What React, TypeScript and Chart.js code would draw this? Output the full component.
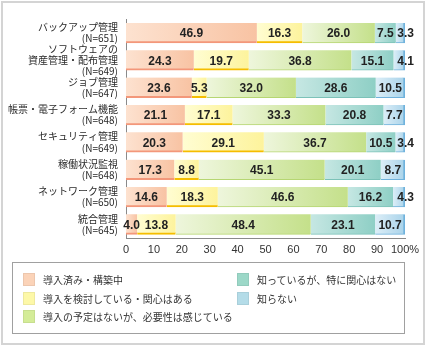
import React, { useEffect, useRef } from "react";
import { Chart, registerables } from "chart.js";

Chart.register(...registerables);

const categories: string[][] = [
  ["バックアップ管理", "(N=651)"],
  ["ソフトウェアの", "資産管理・配布管理", "(N=649)"],
  ["ジョブ管理", "(N=647)"],
  ["帳票・電子フォーム機能", "(N=648)"],
  ["セキュリティ管理", "(N=649)"],
  ["稼働状況監視", "(N=648)"],
  ["ネットワーク管理", "(N=650)"],
  ["統合管理", "(N=645)"],
];

const seriesNames = [
  "導入済み・構築中",
  "導入を検討している・関心はある",
  "導入の予定はないが、必要性は感じている",
  "知っているが、特に関心はない",
  "知らない",
];

const introduced = [46.9, 24.3, 23.6, 21.1, 20.3, 17.3, 14.6, 4.0];
const considering = [16.3, 19.7, 5.3, 17.1, 29.1, 8.8, 18.3, 13.8];
const needed = [26.0, 36.8, 32.0, 33.3, 36.7, 45.1, 46.6, 48.4];
const noInterest = [7.5, 15.1, 28.6, 20.8, 10.5, 20.1, 16.2, 23.1];
const unknown = [3.3, 4.1, 10.5, 7.7, 3.4, 8.7, 4.3, 10.7];

const xTicks = [0, 10, 20, 30, 40, 50, 60, 70, 80, 90, 100];

const seriesValues = [introduced, considering, needed, noInterest, unknown];

const styles = [
  { from: "#fde2d0", to: "#f8c3a3", border: "#f3977a", swatch: "#fbd3b8", bw: { top: 0, left: 0, right: 0, bottom: 2 } },
  { from: "#fffdd2", to: "#fdf39c", border: "#f5bd00", swatch: "#fdf8a8", bw: { top: 0, left: 0, right: 0, bottom: 2 } },
  { from: "#eef6dc", to: "#c4e08a", border: "#b6d672", swatch: "#d4ec98", bw: { top: 0, left: 0, right: 0, bottom: 1 } },
  { from: "#c6e7e3", to: "#8ecfc5", border: "#7cc2b8", swatch: "#9cd8c8", bw: { top: 0, left: 0, right: 0, bottom: 1 } },
  { from: "#dceef7", to: "#a9d3ea", border: "#6fb2dc", swatch: "#b4dce8", bw: { top: 0, left: 0, right: 2, bottom: 1 } },
];

function gradientFor(dsIndex: number) {
  return (ctx: any) => {
    const chart = ctx.chart;
    const x = chart.scales && chart.scales.x;
    const st = styles[dsIndex];
    if (!x || ctx.type !== "data") return st.to;
    const i = ctx.dataIndex;
    let start = 0;
    for (let d = 0; d < dsIndex; d++) start += seriesValues[d][i];
    const end = start + seriesValues[dsIndex][i];
    const x0 = x.getPixelForValue(start);
    const x1 = x.getPixelForValue(end);
    if (!isFinite(x0) || !isFinite(x1) || x1 - x0 < 1) return st.to;
    const g = chart.ctx.createLinearGradient(x0, 0, x1, 0);
    g.addColorStop(0, st.from);
    g.addColorStop(1, st.to);
    return g;
  };
}

const valueLabels = {
  id: "valueLabels",
  afterDatasetsDraw(chart: any) {
    const ctx = chart.ctx;
    const last = chart.data.datasets.length - 1;
    ctx.save();
    ctx.font = "bold 12px 'Liberation Sans', Arial, sans-serif";
    ctx.fillStyle = "#222";
    ctx.textAlign = "center";
    ctx.textBaseline = "middle";
    chart.data.datasets.forEach((ds: any, di: number) => {
      const meta = chart.getDatasetMeta(di);
      meta.data.forEach((el: any, i: number) => {
        const v = ds.data[i];
        const txt = v.toFixed(1);
        const w = ctx.measureText(txt).width;
        const left = Math.min(el.x, el.base);
        const right = Math.max(el.x, el.base);
        let cx = (left + right) / 2;
        if (di === last && w > right - left) {
          cx = Math.max(cx, right - w / 2 + 9);
        }
        ctx.fillText(txt, cx, el.y + 1);
      });
    });
    ctx.restore();
  },
};

export default function App() {
  const ref = useRef<HTMLCanvasElement | null>(null);

  useEffect(() => {
    if (!ref.current) return;
    const chart = new Chart(ref.current, {
      type: "bar",
      data: {
        labels: categories,
        datasets: seriesValues.map((vals, di) => ({
          label: seriesNames[di],
          data: vals,
          backgroundColor: gradientFor(di),
          borderColor: styles[di].border,
          borderWidth: styles[di].bw,
          borderSkipped: false,
          barThickness: 20,
        })),
      },
      options: {
        indexAxis: "y",
        responsive: false,
        animation: false,
        devicePixelRatio: 1,
        layout: { padding: { left: 0, top: 7, right: 22, bottom: 87 } },
        plugins: {
          legend: { display: false },
          tooltip: { enabled: false },
        },
        scales: {
          x: {
            stacked: true,
            min: 0,
            max: 100,
            afterBuildTicks: (axis: any) => {
              axis.ticks = xTicks.map((v) => ({ value: v }));
            },
            afterFit: (axis: any) => {
              axis.height = 20;
            },
            grid: { display: false, drawTicks: false },
            border: { display: true, color: "#8a8a8a", width: 1 },
            ticks: {
              padding: 5,
              autoSkip: false,
              maxRotation: 0,
              color: "#333",
              font: { family: "'Liberation Sans', Arial, sans-serif", size: 11 },
              callback: (v: any) => (Number(v) === 100 ? "100%" : String(v)),
            },
          },
          y: {
            stacked: true,
            afterFit: (axis: any) => {
              axis.width = 126;
            },
            grid: { display: false, drawTicks: false },
            border: { display: true, color: "#8a8a8a", width: 1 },
            ticks: {
              padding: 8,
              autoSkip: false,
              color: "#2a2a2a",
              font: { family: "'Noto Sans CJK JP', sans-serif", size: 10, lineHeight: 1.12 },
            },
          },
        },
      },
      plugins: [valueLabels],
    } as any);
    return () => chart.destroy();
  }, []);

  const legendPos = [
    { x: 23, y: 273 },
    { x: 23, y: 292 },
    { x: 23, y: 310 },
    { x: 237, y: 273 },
    { x: 237, y: 292 },
  ];

  return (
    <div
      style={{
        position: "fixed",
        left: 0,
        top: 0,
        width: 427,
        height: 345,
        background: "#fff",
        overflow: "hidden",
      }}
    >
      <div
        style={{
          position: "absolute",
          left: 1,
          top: 1,
          width: 420,
          height: 340,
          border: "2px solid #d4d4d4",
        }}
      />
      <canvas ref={ref} width={427} height={345} style={{ position: "absolute", left: 0, top: 0 }} />
      <div
        style={{
          position: "absolute",
          left: 12,
          top: 262,
          width: 391,
          height: 70,
          border: "1px solid #a0a0a0",
        }}
      />
      {seriesNames.map((name, i) => (
        <div
          key={name}
          style={{
            position: "absolute",
            left: legendPos[i].x,
            top: legendPos[i].y,
            height: 13,
            display: "flex",
            alignItems: "center",
            whiteSpace: "nowrap",
          }}
        >
          <span
            style={{
              display: "inline-block",
              width: 12,
              height: 13,
              background: styles[i].swatch,
              boxSizing: "border-box",
              border: "1px solid rgba(0,0,0,0.06)",
            }}
          />
          <span
            style={{
              marginLeft: 8,
              fontFamily: "'Noto Sans CJK JP', sans-serif",
              fontSize: 10,
              color: "#333",
              lineHeight: "13px",
            }}
          >
            {name}
          </span>
        </div>
      ))}
    </div>
  );
}
